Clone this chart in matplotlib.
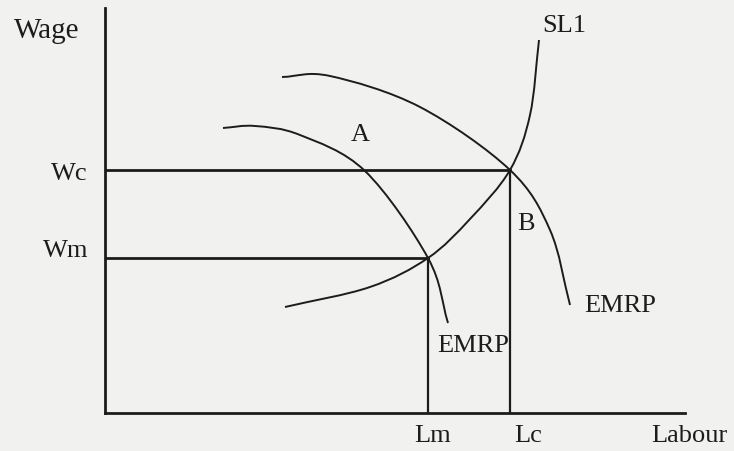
import numpy as np
import matplotlib.pyplot as plt
from matplotlib.path import Path
from matplotlib.patches import PathPatch

# labour market diagram: supply curve SL1 and two EMRP curves
# values in diagram units (labour on x, wage on y)
wc, wm = 243, 155
lc, lm = 405, 323

sl1_labour = [180, 265, 323, 365, 405, 425, 434]
sl1_wage = [106, 126, 155, 194, 243, 298, 373]

emrp_outer_labour = [177, 225, 315, 405, 445, 465]
emrp_outer_wage = [336, 337, 306, 243, 183, 108]

emrp_inner_labour = [118, 150, 195, 260, 323, 343]
emrp_inner_wage = [285, 287, 278, 242, 155, 90]

W, H = 734, 451
bg = '#f1f1f0'
ink = '#1c1c1c'
font = dict(family='Liberation Serif', fontsize=19, color=ink)


def smooth_curve(ax, xs, ys, lw=1.4):
    # draw a smooth line through the points (catmull-rom as bezier segments)
    p = np.column_stack([xs, ys]).astype(float)
    ext = np.vstack([2 * p[0] - p[1], p, 2 * p[-1] - p[-2]])
    verts = [p[0]]
    codes = [Path.MOVETO]
    for i in range(1, len(ext) - 2):
        c1 = ext[i] + (ext[i + 1] - ext[i - 1]) / 6
        c2 = ext[i + 1] - (ext[i + 2] - ext[i]) / 6
        verts += [c1, c2, ext[i + 1]]
        codes += [Path.CURVE4] * 3
    ax.add_patch(PathPatch(Path(verts, codes), fill=False, edgecolor=ink, lw=lw))


fig = plt.figure(figsize=(W / 100, H / 100), dpi=100, facecolor=bg)
ax = fig.add_axes([105 / W, 1 - 413 / H, 580 / W, 405 / H])
ax.set_facecolor(bg)
ax.set_xlim(0, 580)
ax.set_ylim(0, 405)
for s in ['top', 'right']:
    ax.spines[s].set_visible(False)
for s in ['left', 'bottom']:
    ax.spines[s].set_linewidth(2)
    ax.spines[s].set_color(ink)
ax.set_xticks([])
ax.set_yticks([])

# guide lines to the equilibria
ax.plot([0, lc], [wc, wc], color=ink, lw=2)
ax.plot([0, lm], [wm, wm], color=ink, lw=2)
ax.plot([lc, lc], [0, wc], color=ink, lw=1.6)
ax.plot([lm, lm], [0, wm], color=ink, lw=1.6)

smooth_curve(ax, sl1_labour, sl1_wage)
smooth_curve(ax, emrp_outer_labour, emrp_outer_wage)
smooth_curve(ax, emrp_inner_labour, emrp_inner_wage)


def label(x, y, s, ha='center', size=19):
    fig.text(x / W, 1 - y / H, s, ha=ha, va='center', **{**font, 'fontsize': size})


label(47, 31, 'Wage', size=21)
label(88, 174, 'Wc', ha='right')
label(88, 251, 'Wm', ha='right')
label(433, 436, 'Lm')
label(528, 436, 'Lc')
label(689, 436, 'Labour')
label(564, 26, 'SL1')
label(360, 135, 'A')
label(526, 224, 'B')
label(473, 346, 'EMRP')
label(620, 306, 'EMRP')

fig.savefig('out.png', dpi=100, facecolor=bg)
